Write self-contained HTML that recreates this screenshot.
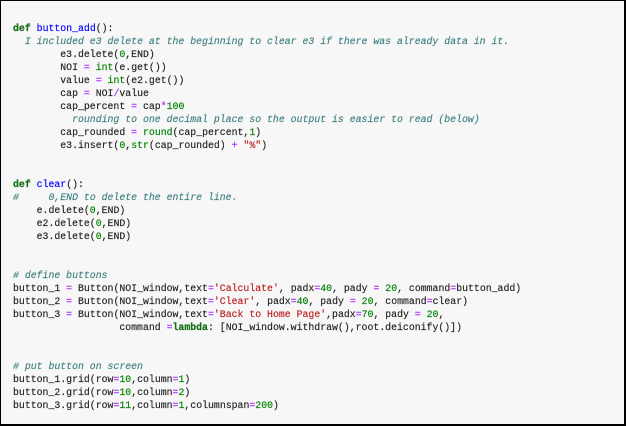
<!DOCTYPE html>
<html><head><meta charset="utf-8"><style>
html,body{margin:0;padding:0;background:#fff;}
#box{position:absolute;left:0;top:0;width:623px;height:423px;border:1px solid #000;border-right-width:2px;border-bottom-width:2px;background:#f7f7f7;overflow:hidden;}
pre{position:absolute;left:12px;top:20.5px;margin:0;font-family:"Liberation Mono","DejaVu Sans Mono",monospace;font-size:9.85px;line-height:13px;color:#222;-webkit-text-stroke:0.15px #222;}
.k{color:#008000;font-weight:bold}
.f{color:#0000ff;-webkit-text-stroke:0.15px #0000ff}
.c{color:#408080;font-style:italic;-webkit-text-stroke:0.15px #408080}
.o{color:#aa22ff;-webkit-text-stroke:0.15px #aa22ff}
.n{color:#008000;-webkit-text-stroke:0.15px #008000}
.s{color:#ba2121;-webkit-text-stroke:0.15px #ba2121}
.b{color:#008000;-webkit-text-stroke:0.15px #008000}
</style></head><body><div id="box"><pre><span class="k">def</span> <span class="f">button_add</span>():
  <span class="c">I included e3 delete at the beginning to clear e3 if there was already data in it.</span>
        e3.delete(<span class="n">0</span>,END)
        NOI <span class="o">=</span> <span class="b">int</span>(e.get())
        value <span class="o">=</span> <span class="b">int</span>(e2.get())
        cap <span class="o">=</span> NOI<span class="o">/</span>value
        cap_percent <span class="o">=</span> cap<span class="o">*</span><span class="n">100</span>
          <span class="c">rounding to one decimal place so the output is easier to read (below)</span>
        cap_rounded <span class="o">=</span> <span class="b">round</span>(cap_percent,<span class="n">1</span>)
        e3.insert(<span class="n">0</span>,<span class="b">str</span>(cap_rounded) <span class="o">+</span> <span class="s">"%"</span>)


<span class="k">def</span> <span class="f">clear</span>():
<span class="c">#     0,END to delete the entire line.</span>
    e.delete(<span class="n">0</span>,END)
    e2.delete(<span class="n">0</span>,END)
    e3.delete(<span class="n">0</span>,END)


<span class="c"># define buttons</span>
button_1 <span class="o">=</span> Button(NOI_window,text<span class="o">=</span><span class="s">'Calculate'</span>, padx<span class="o">=</span><span class="n">40</span>, pady <span class="o">=</span> <span class="n">20</span>, command<span class="o">=</span>button_add)
button_2 <span class="o">=</span> Button(NOI_window,text<span class="o">=</span><span class="s">'Clear'</span>, padx<span class="o">=</span><span class="n">40</span>, pady <span class="o">=</span> <span class="n">20</span>, command<span class="o">=</span>clear)
button_3 <span class="o">=</span> Button(NOI_window,text<span class="o">=</span><span class="s">'Back to Home Page'</span>,padx<span class="o">=</span><span class="n">70</span>, pady <span class="o">=</span> <span class="n">20</span>,
                  command <span class="o">=</span><span class="k">lambda</span>: [NOI_window.withdraw(),root.deiconify()])


<span class="c"># put button on screen</span>
button_1.grid(row<span class="o">=</span><span class="n">10</span>,column<span class="o">=</span><span class="n">1</span>)
button_2.grid(row<span class="o">=</span><span class="n">10</span>,column<span class="o">=</span><span class="n">2</span>)
button_3.grid(row<span class="o">=</span><span class="n">11</span>,column<span class="o">=</span><span class="n">1</span>,columnspan<span class="o">=</span><span class="n">200</span>)</pre></div></body></html>
